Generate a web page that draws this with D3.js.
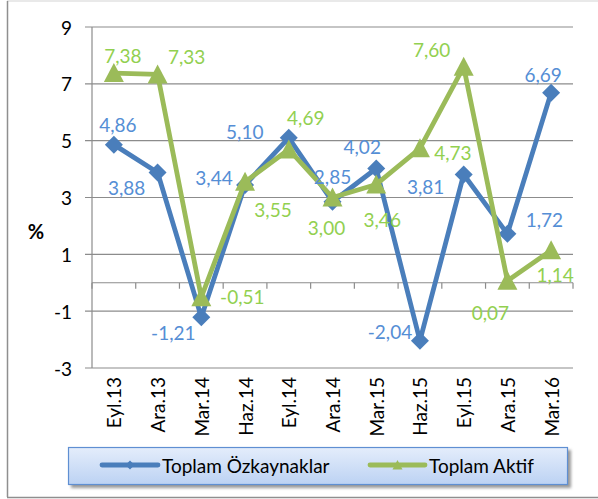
<!DOCTYPE html>
<html>
<head>
<meta charset="utf-8">
<script src="https://cdn.jsdelivr.net/npm/d3@7/dist/d3.min.js"></script>
<style>
  html, body { margin: 0; padding: 0; background: #ffffff; }
  svg { display: block; font-family: Lato, "Open Sans", sans-serif; }
</style>
</head>
<body>
<svg id="chart" width="598" height="499"></svg>
<script>
// Quarterly percentage changes
const categories = ["Eyl.13", "Ara.13", "Mar.14", "Haz.14", "Eyl.14", "Ara.14",
                    "Mar.15", "Haz.15", "Eyl.15", "Ara.15", "Mar.16"];
const ozkaynaklar = [4.86, 3.88, -1.21, 3.44, 5.10, 2.85, 4.02, -2.04, 3.81, 1.72, 6.69];
const aktif       = [7.38, 7.33, -0.51, 3.55, 4.69, 3.00, 3.46, 4.73, 7.60, 0.07, 1.14];
const yTicks = [-3, -1, 1, 3, 5, 7, 9];
const seriesNames = ["Toplam Özkaynaklar", "Toplam Aktif"];

// Data label nudges (px) relative to each marker
const blueLabelShift = [[4,-20],[-31,15],[-28,15],[-31,-7],[-44,-6],[0,-25],[-14,-22],[-30,-9],[-38,12],[37,-14],[-8,-18]];
const greenLabelShift = [[9,-18],[29,-18],[41,-1],[28,28],[17,-32],[-6,30],[6,35],[33,4],[-32,-17],[-17,32],[4,24]];

const trLocale = d3.formatLocale({decimal: ",", thousands: ".", grouping: [3], currency: ["", ""], minus: "-"});
const fmt2 = trLocale.format(".2f");
const fmtInt = trLocale.format("d");

const FS = 19;
const svg = d3.select("#chart");
const plot = {left: 92, right: 573, top: 27, bottom: 368};

const x = d3.scaleBand().domain(categories).range([plot.left, plot.right]);
const y = d3.scaleLinear().domain([-3, 9]).range([plot.bottom, plot.top]);
const cx = d => x(d) + x.bandwidth() / 2;

// Outer chart frame
svg.append("line").attr("x1", 7).attr("x2", 600).attr("y1", 1).attr("y2", 1)
  .attr("stroke", "#e2e2e2").attr("stroke-width", 1.5);
svg.append("line").attr("x1", 7.5).attr("x2", 7.5).attr("y1", 1).attr("y2", 497)
  .attr("stroke", "#8f8f8f").attr("stroke-width", 1.5);
svg.append("line").attr("x1", 7).attr("x2", 600).attr("y1", 497.5).attr("y2", 497.5)
  .attr("stroke", "#8f8f8f").attr("stroke-width", 1.5);

// Horizontal gridlines with left tick marks
svg.append("g").selectAll("line").data(yTicks).join("line")
  .attr("x1", plot.left - 7).attr("x2", plot.right)
  .attr("y1", d => y(d)).attr("y2", d => y(d))
  .attr("stroke", "#8c8c8c").attr("stroke-width", 1.2);

// Y axis line
svg.append("line").attr("x1", plot.left).attr("x2", plot.left)
  .attr("y1", plot.top).attr("y2", plot.bottom)
  .attr("stroke", "#8c8c8c").attr("stroke-width", 1.2);

// Y tick labels
svg.append("g").selectAll("text").data(yTicks).join("text")
  .attr("x", 72).attr("y", d => y(d))
  .attr("text-anchor", "end").attr("dominant-baseline", "central")
  .attr("font-size", FS).attr("fill", "#000")
  .text(d => fmtInt(d));

// Axis title
svg.append("text").attr("x", 36).attr("y", 231)
  .attr("text-anchor", "middle").attr("dominant-baseline", "central")
  .attr("font-size", 20).attr("font-weight", "bold").text("%");

// Category axis crossing at zero, ticks between categories
const y0 = y(0);
svg.append("line").attr("x1", plot.left).attr("x2", plot.right)
  .attr("y1", y0).attr("y2", y0).attr("stroke", "#8c8c8c").attr("stroke-width", 1.2);
const bounds = d3.range(categories.length + 1).map(i => plot.left + i * x.step());
svg.append("g").selectAll("line").data(bounds).join("line")
  .attr("x1", d => d).attr("x2", d => d).attr("y1", y0).attr("y2", y0 + 6)
  .attr("stroke", "#8c8c8c").attr("stroke-width", 1.2);

// Category labels, rotated, below the plot
svg.append("g").selectAll("text").data(categories).join("text")
  .attr("transform", d => `translate(${cx(d)},377) rotate(-90)`)
  .attr("text-anchor", "end").attr("dominant-baseline", "central")
  .attr("font-size", FS).attr("fill", "#000")
  .text(d => d);

// Marker shapes
const diamond = r => `M0,${-r}L${r},0L0,${r}L${-r},0Z`;
const triangle = (w, h) => `M0,${-h}L${w},${h * 0.9}L${-w},${h * 0.9}Z`;

const line = d3.line().x((d, i) => cx(categories[i])).y(d => y(d));

const blue = "#4a7ebb", green = "#9bbb59";
const blueText = "#558ed5", greenText = "#92d050";

// Series 1
svg.append("path").datum(ozkaynaklar).attr("d", line)
  .attr("fill", "none").attr("stroke", blue).attr("stroke-width", 4.8)
  .attr("stroke-linejoin", "round");
svg.append("g").selectAll("path").data(ozkaynaklar).join("path")
  .attr("transform", (d, i) => `translate(${cx(categories[i])},${y(d)})`)
  .attr("d", diamond(9)).attr("fill", blue);

// Series 2
svg.append("path").datum(aktif).attr("d", line)
  .attr("fill", "none").attr("stroke", green).attr("stroke-width", 4.8)
  .attr("stroke-linejoin", "round");
svg.append("g").selectAll("path").data(aktif).join("path")
  .attr("transform", (d, i) => `translate(${cx(categories[i])},${y(d)})`)
  .attr("d", triangle(10, 10)).attr("fill", green);

// Data labels
function labels(values, shifts, color) {
  svg.append("g").selectAll("text").data(values).join("text")
    .attr("x", (d, i) => cx(categories[i]) + shifts[i][0])
    .attr("y", (d, i) => y(d) + shifts[i][1])
    .attr("text-anchor", "middle").attr("dominant-baseline", "central")
    .attr("font-size", FS).attr("fill", color)
    .text(d => fmt2(d));
}
labels(ozkaynaklar, blueLabelShift, blueText);
labels(aktif, greenLabelShift, greenText);

// Legend
const defs = svg.append("defs");
const grad = defs.append("linearGradient").attr("id", "legendFill")
  .attr("x1", 0).attr("y1", 0).attr("x2", 0).attr("y2", 1);
grad.append("stop").attr("offset", "0%").attr("stop-color", "#e4edfb");
grad.append("stop").attr("offset", "100%").attr("stop-color", "#bcd2f3");
const blur = defs.append("filter").attr("id", "shadow").attr("x", "-10%").attr("y", "-30%")
  .attr("width", "120%").attr("height", "160%");
blur.append("feGaussianBlur").attr("stdDeviation", 1.5);

const legend = svg.append("g");
legend.append("rect").attr("x", 71).attr("y", 450).attr("width", 500).attr("height", 38)
  .attr("fill", "#9a9a9a").attr("filter", "url(#shadow)");
legend.append("rect").attr("x", 68.5).attr("y", 447.5).attr("width", 499).attr("height", 37)
  .attr("fill", "url(#legendFill)").attr("stroke", "#5f8fd2").attr("stroke-width", 1.2);

const legendItems = [
  {name: seriesNames[0], color: blue, x0: 102, x1: 158, tx: 162, marker: diamond(4.5)},
  {name: seriesNames[1], color: green, x0: 370, x1: 425, tx: 429, marker: triangle(5, 5)}
];
const li = legend.selectAll("g.item").data(legendItems).join("g").attr("class", "item");
li.append("line").attr("x1", d => d.x0).attr("x2", d => d.x1).attr("y1", 465).attr("y2", 465)
  .attr("stroke", d => d.color).attr("stroke-width", 4.8).attr("stroke-linecap", "round");
li.append("path").attr("transform", d => `translate(${(d.x0 + d.x1) / 2},465)`)
  .attr("d", d => d.marker).attr("fill", d => d.color);
li.append("text").attr("x", d => d.tx).attr("y", 465)
  .attr("dominant-baseline", "central").attr("font-size", FS).attr("fill", "#000")
  .text(d => d.name);
</script>
</body>
</html>
